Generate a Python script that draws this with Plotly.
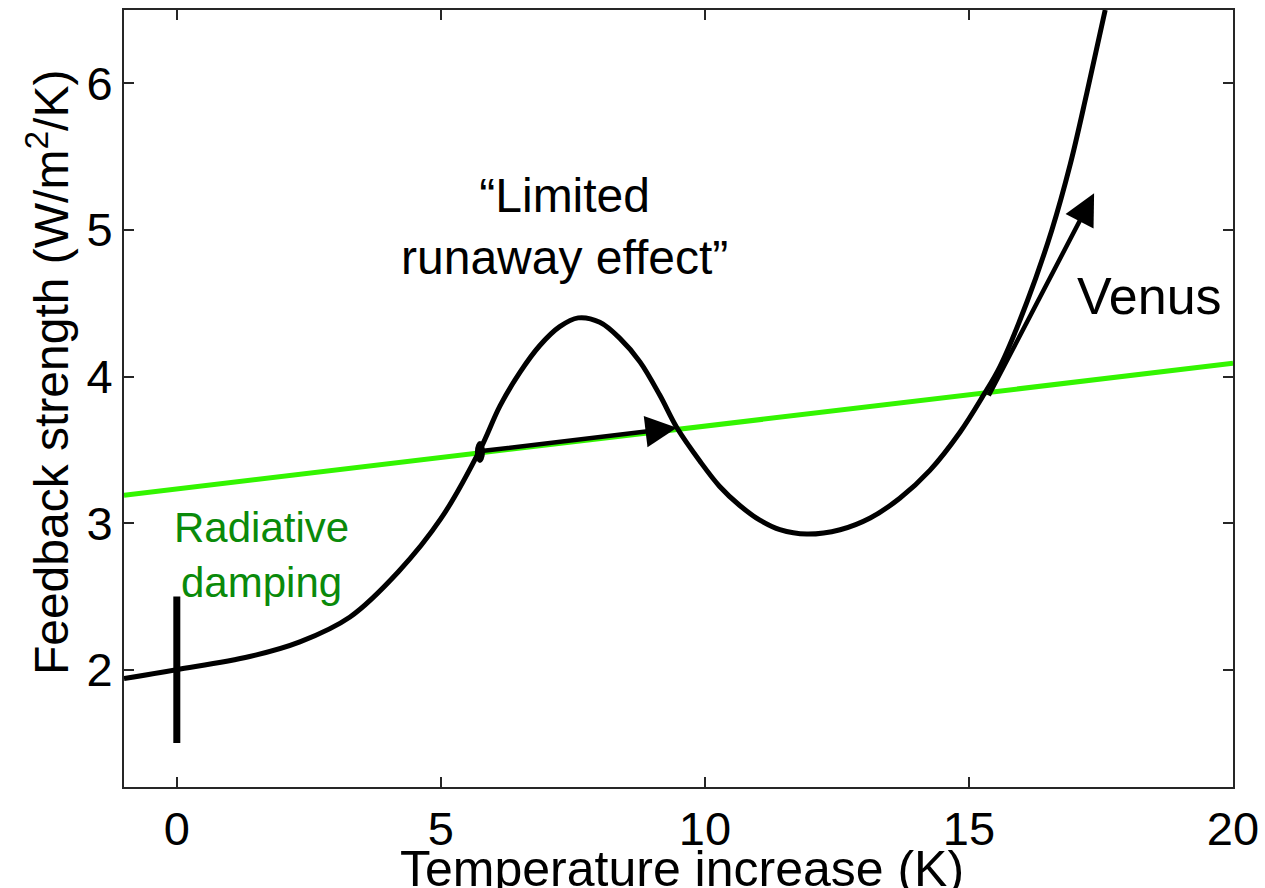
import plotly.graph_objects as go

# Feedback strength curve
curve_x = [-1.0, 0.0, 1.38, 2.33, 3.28, 4.2, 5.0, 5.74, 6.12, 6.5, 6.87, 7.25, 7.6, 8.01, 8.39,
           8.77, 9.15, 9.47, 9.91, 10.28, 10.66, 11.04, 11.42, 11.93, 12.56, 13.13, 13.69,
           14.26, 14.83, 15.27, 15.59, 16.1, 16.57, 16.92, 17.23, 17.58]
curve_y = [1.94, 2.0, 2.09, 2.19, 2.36, 2.67, 3.03, 3.50, 3.80, 4.03, 4.21, 4.34, 4.40, 4.37, 4.26,
           4.10, 3.87, 3.65, 3.42, 3.25, 3.12, 3.02, 2.955, 2.925, 2.955, 3.035, 3.17,
           3.36, 3.62, 3.87, 4.07, 4.51, 5.0, 5.45, 5.93, 6.5]

# Radiative damping line
damp_x = [-1.0, 20.0]
damp_y = [3.19, 4.09]

# Vertical bar at zero warming
bar_x = [0.0, 0.0]
bar_y = [1.5, 2.5]

# Arrows: (start, end)
arrow1_start = (5.74, 3.49)
arrow1_end = (9.47, 3.65)
arrow2_start = (15.36, 3.86)
arrow2_end = (17.37, 5.25)

x_ticks = [0, 5, 10, 15, 20]
y_ticks = [2, 3, 4, 5, 6]

FONT = "Arial, Liberation Sans, sans-serif"

fig = go.Figure()
fig.add_trace(go.Scatter(x=damp_x, y=damp_y, mode="lines",
                         line=dict(color="#33f500", width=5), showlegend=False, hoverinfo="skip"))
fig.add_trace(go.Scatter(x=curve_x, y=curve_y, mode="lines",
                         line=dict(color="black", width=5, shape="spline", smoothing=1.0),
                         showlegend=False))
fig.add_trace(go.Scatter(x=bar_x, y=bar_y, mode="lines",
                         line=dict(color="black", width=7), showlegend=False))

# ellipse at start of first arrow
fig.add_shape(type="circle", xref="x", yref="y",
              x0=arrow1_start[0] - 0.095, x1=arrow1_start[0] + 0.095,
              y0=arrow1_start[1] - 0.08, y1=arrow1_start[1] + 0.07,
              fillcolor="black", line=dict(color="black", width=0))

for s, e in [(arrow1_start, arrow1_end), (arrow2_start, arrow2_end)]:
    fig.add_annotation(x=e[0], y=e[1], ax=s[0], ay=s[1], xref="x", yref="y",
                       axref="x", ayref="y", text="", showarrow=True,
                       arrowhead=2, arrowsize=1.4, arrowwidth=4.5, arrowcolor="black",
                       standoff=0, startstandoff=0)

fig.add_annotation(x=7.35, y=5.02, xref="x", yref="y",
                   text="\u201cLimited<br>runaway effect\u201d", showarrow=False,
                   font=dict(family=FONT, size=48, color="black"), align="center")
fig.add_annotation(x=18.42, y=4.55, xref="x", yref="y", text="Venus", showarrow=False,
                   font=dict(family=FONT, size=52, color="black"))
fig.add_annotation(x=1.61, y=2.78, xref="x", yref="y", text="Radiative<br>damping",
                   showarrow=False, font=dict(family=FONT, size=42, color="#0a8a0a"),
                   align="center")

# axis titles placed as paper annotations to match the reference positions
fig.add_annotation(x=0.503, y=-0.106, xref="paper", yref="paper",
                   text="Temperature increase (K)", showarrow=False,
                   xanchor="center", yanchor="middle",
                   font=dict(family=FONT, size=50, color="black"))
fig.add_annotation(x=-0.0685, y=0.534, xref="paper", yref="paper",
                   text="Feedback strength (W/m<sup>2</sup>/K)", showarrow=False,
                   textangle=-90, xanchor="center", yanchor="middle",
                   font=dict(family=FONT, size=48, color="black"))

axis_common = dict(showgrid=False, zeroline=False, showline=True, linecolor="#262626",
                   linewidth=2, mirror="ticks", ticks="inside", ticklen=10, tickwidth=2,
                   tickcolor="#262626", automargin=False,
                   tickfont=dict(family=FONT, size=47, color="black"))

fig.update_xaxes(range=[-1, 20], tickvals=x_ticks, **axis_common)
fig.update_yaxes(range=[1.2, 6.5], tickvals=y_ticks, **axis_common)

fig.update_layout(width=1265, height=888, plot_bgcolor="white", paper_bgcolor="white",
                  margin=dict(l=124, r=32, t=10, b=101), showlegend=False)

fig.write_html("out.html")
